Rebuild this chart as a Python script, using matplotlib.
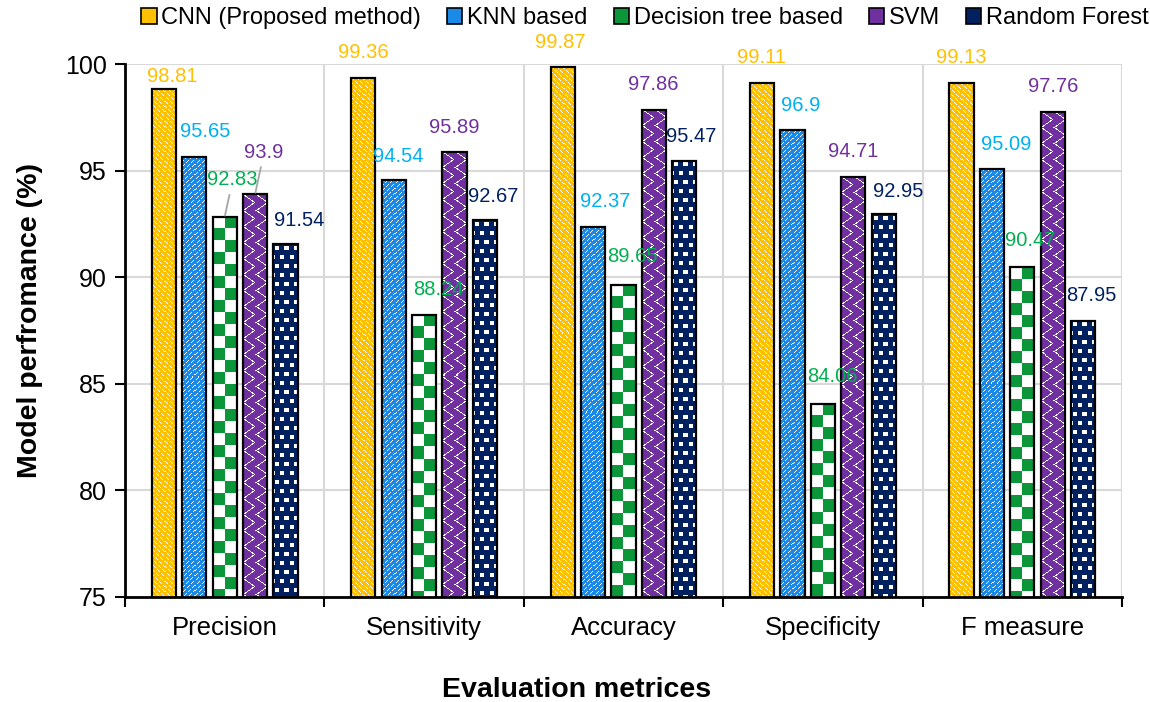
import numpy as np
import matplotlib
matplotlib.use("Agg")
import matplotlib.pyplot as plt
from matplotlib.patches import Patch

# ---- data -------------------------------------------------------------
categories = ["Precision", "Sensitivity", "Accuracy", "Specificity", "F measure"]
series_names = ["CNN (Proposed method)", "KNN based", "Decision tree based", "SVM", "Random Forest"]

cnn = [98.81, 99.36, 99.87, 99.11, 99.13]
knn = [95.65, 94.54, 92.37, 96.9, 95.09]
dtree = [92.83, 88.24, 89.65, 84.06, 90.47]
svm = [93.9, 95.89, 97.86, 94.71, 97.76]
rforest = [91.54, 92.67, 95.47, 92.95, 87.95]

y_ticks = [75, 80, 85, 90, 95, 100]

# ---- styling ----------------------------------------------------------
fill_colors = ["#FFC000", "#1A8AE6", "#0C963A", "#7030A0", "#002060"]
label_colors = ["#FFC000", "#00B0F0", "#00B050", "#7030A0", "#002060"]
textures = ["bdiag", "fdiag", "checker", "zigzag", "squares"]

# per-label placement (pixels right, pixels up) relative to the bar top
label_offsets = [
    [(8, 13), (0, 25), (-2, 24), (-1, 25), (0, 25)],
    [(11, 25), (5, 24), (12, 25), (8, 25), (14, 24)],
    [(8, 37), (14, 25), (9, 28), (9, 27), (8, 27)],
    [(9, 42), (0, 24), (-1, 25), (0, 25), (0, 25)],
    [(14, 24), (8, 24), (7, 24), (14, 23), (8, 25)],
]
leader_labels = {(2, 0), (3, 0)}

plt.rcParams["font.family"] = ["Liberation Sans", "DejaVu Sans"]

W, H, DPI = 1150, 702, 100
fig = plt.figure(figsize=(W / DPI, H / DPI), dpi=DPI)
ax = fig.add_axes([125 / W, 1 - 597 / H, 997 / W, 533 / H])

YMIN, YMAX = 75, 100
ax.set_xlim(-0.5, len(categories) - 0.5)
ax.set_ylim(YMIN, YMAX)


def texture(kind, hp, wp, color):
    """RGB texture of hp x wp pixels: white motif on the series colour."""
    i, j = np.mgrid[0:hp, 0:wp]
    if kind == "bdiag":
        white = ((j - i) % 5 == 0) & (i % 4 != 3)
    elif kind == "fdiag":
        white = ((i + j) % 5 == 0) & (i % 4 != 3)
    elif kind == "checker":
        white = ((i // 12) + (j // 12)) % 2 == 0
    elif kind == "zigzag":
        t = (i % 16) / 16.0
        tri = (1 - np.abs(2 * t - 1)) * 11
        white = np.abs((j % 12) - tri) < 0.8
    else:
        # staggered rows of small white squares
        row = i // 9
        shift = (row % 2) * 4
        a = i % 9
        b = (j + shift) % 9
        white = (a >= 2) & (a <= 5) & (b >= 2) & (b <= 5)
    rgb = np.array(matplotlib.colors.to_rgb(color))
    img = np.ones((hp, wp, 3)) * rgb
    img[white] = 1.0
    return img


all_series = [cnn, knn, dtree, svm, rforest]
n = len(all_series)
step, width = 0.1525, 0.122
x = np.arange(len(categories))

# grid
ax.set_yticks(y_ticks)
ax.set_xticks(x)
ax.set_xticks(np.arange(-0.5, len(categories), 1.0), minor=True)
ax.grid(axis="y", which="major", color="#D9D9D9", lw=1.5, zorder=0)
ax.grid(axis="x", which="minor", color="#D9D9D9", lw=1.5, zorder=0)
ax.grid(axis="x", which="major", visible=False)
ax.set_axisbelow(True)

fig.canvas.draw()
to_px = ax.transData

for s, vals in enumerate(all_series):
    pos = x + (s - (n - 1) / 2) * step
    bars = ax.bar(pos, vals, width=width, bottom=0, color=fill_colors[s],
                  edgecolor="none", zorder=2)
    for k, (b, v) in enumerate(zip(bars, vals)):
        x0 = pos[k] - width / 2
        x1 = pos[k] + width / 2
        (px0, py0), (px1, py1) = to_px.transform([(x0, YMIN), (x1, v)])
        wp = max(int(round(px1 - px0)), 1)
        hp = max(int(round(py1 - py0)), 1)
        img = ax.imshow(texture(textures[s], hp, wp, fill_colors[s]),
                        extent=(x0, x1, YMIN, v), origin="upper",
                        interpolation="nearest", aspect="auto", zorder=2.5)
        img.set_clip_path(b)
    ax.bar(pos, vals, width=width, bottom=0, facecolor="none",
           edgecolor="black", lw=1.6, zorder=3)
    for k, v in enumerate(vals):
        dx, dy = label_offsets[s][k]
        kw = {}
        if (s, k) in leader_labels:
            kw["arrowprops"] = dict(arrowstyle="-", color="#A6A6A6", lw=1.3,
                                    shrinkA=2, shrinkB=1)
        ax.annotate(f"{v:g}", xy=(pos[k], v), xytext=(dx, dy),
                    textcoords="offset pixels", ha="center", va="center",
                    fontsize=14.5, color=label_colors[s], zorder=5, **kw)

ax.set_xlim(-0.5, len(categories) - 0.5)
ax.set_ylim(YMIN, YMAX)

for side in ("top", "right"):
    ax.spines[side].set_visible(False)
for side in ("left", "bottom"):
    ax.spines[side].set_linewidth(2)
    ax.spines[side].set_zorder(6)

ax.set_xticklabels(categories, fontsize=18.5)
ax.tick_params(axis="x", which="major", length=0, pad=14)
ax.tick_params(axis="x", which="minor", length=7, width=1.5, direction="out")
ax.tick_params(axis="y", length=7, width=1.5, direction="out", pad=6, labelsize=18)

fig.text(30 / W, 1 - 320 / H, "Model perfromance (%)", rotation=90,
         ha="center", va="center", fontsize=20.5, fontweight="bold")
fig.text(577 / W, 1 - 690 / H, "Evaluation metrices", ha="center",
         va="center", fontsize=20.5, fontweight="bold")

handles = [Patch(facecolor=c, edgecolor="black", lw=1.2) for c in fill_colors]
fig.legend(handles, series_names, loc="center", bbox_to_anchor=(645 / W, 1 - 18 / H),
           ncol=5, frameon=False, fontsize=17, handlelength=0.65, handleheight=0.65,
           handletextpad=0.2, columnspacing=1.1, borderpad=0)

fig.savefig("out.png", dpi=DPI)
